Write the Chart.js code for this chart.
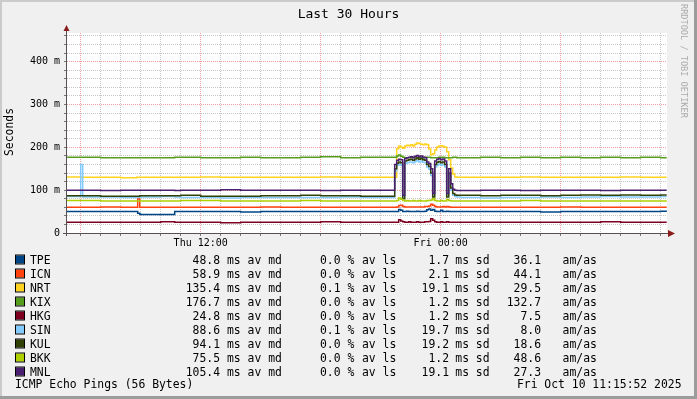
<!DOCTYPE html>
<html>
<head>
<meta charset="utf-8">
<script src="https://cdn.jsdelivr.net/npm/chart.js@4/dist/chart.umd.min.js"></script>
<style>
  html, body { margin: 0; padding: 0; background: #f0f0f0; }
  canvas { display: block; }
</style>
</head>
<body>
<canvas id="ping" width="697" height="399"></canvas>
<script>
// time axis: hours since Thu 00:00
const times = [5.25, 6, 6.1, 7, 8, 8.8, 8.85, 8.95, 9, 10, 10.7, 11, 12, 13, 14, 15, 16, 17, 18, 19, 20, 21,
  21.7, 21.8, 21.9, 22.0, 22.1, 22.2, 22.3, 22.4, 22.5, 22.6, 22.7, 22.8, 22.9, 23.0, 23.1, 23.2,
  23.3, 23.4, 23.5, 23.6, 23.7, 23.8, 23.9, 24.0, 24.1, 24.2, 24.3, 24.4, 24.5, 24.6, 24.7, 24.8,
  25, 26, 27, 28, 29, 30, 31, 32, 33, 34, 35, 35.3];

// median rtt per host, ms
const tpe = [50,50,50,50,50,50,46,44,43,43,50,50,50,50,49,50,50,50,50,50,50,50,
  50,50,55,53,50,50,51,50,50,50,50,51,50,50,50,51,54,56,53,55,51,50,50,53,50,50,51,50,50,50,50,50,
  50,50,50,50,49,50,50,50,50,50,51,50];
const icn = [60,60,60,61,60,60,80,60,60,60,60,60,60,60,60,61,60,60,60,60,60,60,
  60,61,64,65,62,61,61,61,61,61,61,61,61,61,61,62,62,63,67,65,62,61,61,61,62,61,62,61,60,60,60,60,
  60,60,60,60,60,61,60,60,60,60,60,60];
const nrt = [131,130,130,130,129,130,130,130,130,130,130,130,131,130,130,130,130,130,131,130,130,130,
  130,197,203,200,198,203,205,204,206,203,207,210,209,207,206,208,206,196,183,185,194,201,203,204,202,200,190,171,152,138,131,130,
  130,130,130,131,130,130,130,130,131,130,130,130];
const kix = [177,177,177,176,176,176,176,176,176,176,177,177,176,176,177,176,176,177,178,176,177,177,
  177,180,182,179,177,176,176,176,177,177,177,176,176,176,176,177,177,177,176,176,176,176,177,177,177,176,176,176,176,177,177,176,
  176,177,176,177,176,177,176,177,176,177,176,176];
const hkg = [25,25,25,25,25,25,25,25,25,26,25,25,25,24,25,25,25,25,26,25,25,25,
  25,25,31,28,26,25,25,26,25,25,25,26,25,25,25,26,26,27,33,30,26,25,25,26,25,25,26,25,25,25,25,25,
  25,25,25,25,25,25,25,26,25,25,25,25];
const sin = [85,160,84,84,83,83,83,83,84,85,84,83,83,82,83,83,83,83,83,84,83,83,
  145,158,160,158,84,162,164,165,166,164,167,169,166,168,165,164,154,149,134,86,154,159,161,158,160,154,86,134,100,88,85,84,
  83,82,83,83,84,83,84,85,84,84,85,85];
const kul = [87,87,87,86,86,86,86,87,87,87,87,88,86,86,86,87,87,88,87,87,86,86,
  150,163,166,164,80,168,170,171,172,170,173,175,172,174,171,170,160,155,140,84,160,165,167,164,166,160,84,140,105,92,89,88,
  88,87,88,88,87,88,89,88,89,88,89,89];
const bkk = [76,76,76,75,75,75,75,75,75,75,75,76,76,75,75,75,75,76,75,75,75,75,
  75,76,82,79,76,75,76,75,75,76,75,75,76,75,75,75,76,76,77,80,76,75,75,76,75,75,78,76,75,75,75,75,
  75,75,75,76,75,75,75,75,75,75,75,75];
const mnl = [100,100,100,99,100,100,100,100,100,100,99,100,100,101,100,100,100,100,99,100,100,100,
  160,170,172,171,88,174,176,177,178,176,179,181,178,180,177,176,166,162,150,92,168,172,174,171,173,168,92,150,115,102,100,99,
  99,100,100,99,100,100,100,99,100,100,100,100];

const hosts = ['TPE', 'ICN', 'NRT', 'KIX', 'HKG', 'SIN', 'KUL', 'BKK', 'MNL'];
const colors = ['#004586', '#ff420e', '#ffd320', '#579d1c', '#7e0021', '#83caff', '#314004', '#aecf00', '#4b1f6f'];
const medAvg = [48.8, 58.9, 135.4, 176.7, 24.8, 88.6, 94.1, 75.5, 105.4];
const lossAvg = [0.0, 0.0, 0.1, 0.0, 0.0, 0.1, 0.0, 0.0, 0.0];
const sdAvg = [1.7, 2.1, 19.1, 1.2, 1.2, 19.7, 19.2, 1.2, 19.1];
const amas = [36.1, 44.1, 29.5, 132.7, 7.5, 8.0, 18.6, 48.6, 27.3];
const series = [tpe, icn, nrt, kix, hkg, sin, kul, bkk, mnl];

const hourTicks = [6,7,8,9,10,11,12,13,14,15,16,17,18,19,20,21,22,23,24,25,26,27,28,29,30,31,32,33,34,35];
const yTicks = [0,20,40,60,80,100,120,140,160,180,200,220,240,260,280,300,320,340,360,380,400,420,440,460];

const mono = '"DejaVu Sans Mono", monospace';
const majorGrid = 'rgba(222,80,72,0.55)';
const minorGrid = 'rgba(143,143,143,0.5)';

const rrdLook = {
  id: 'rrdLook',
  beforeDraw(chart) {
    const { ctx, chartArea: a } = chart;
    ctx.save();
    ctx.fillStyle = '#f0f0f0';
    ctx.fillRect(0, 0, 697, 399);
    ctx.fillStyle = '#cbcbcb';
    ctx.fillRect(0, 0, 697, 2);
    ctx.fillRect(0, 0, 2, 399);
    ctx.fillStyle = '#9c9c9c';
    ctx.fillRect(0, 396, 697, 3);
    ctx.fillRect(694, 0, 3, 399);
    ctx.fillStyle = '#ffffff';
    ctx.fillRect(a.left, a.top, a.right - a.left, a.bottom - a.top);
    ctx.restore();
  },
  afterDraw(chart) {
    const ctx = chart.ctx;
    ctx.save();
    // axes and arrows
    ctx.fillStyle = '#585050';
    ctx.fillRect(66, 30, 1, 206);
    ctx.fillRect(63, 233, 607, 1);
    ctx.fillStyle = '#8b1c1c';
    ctx.beginPath();
    ctx.moveTo(63.5, 31); ctx.lineTo(66.5, 25); ctx.lineTo(69.5, 31); ctx.closePath();
    ctx.fill();
    ctx.beginPath();
    ctx.moveTo(668, 230); ctx.lineTo(675, 233.5); ctx.lineTo(668, 237); ctx.closePath();
    ctx.fill();

    // title
    ctx.fillStyle = '#000';
    ctx.font = '13px ' + mono;
    ctx.textAlign = 'center';
    ctx.textBaseline = 'alphabetic';
    ctx.fillText('Last 30 Hours', 348.5, 18.3);

    // vertical label
    ctx.save();
    ctx.translate(10.5, 132);
    ctx.rotate(-Math.PI / 2);
    ctx.font = '11.4px ' + mono;
    ctx.textBaseline = 'middle';
    ctx.fillText('Seconds', 0, 0);
    ctx.restore();

    // watermark
    ctx.save();
    ctx.translate(683.5, 4);
    ctx.rotate(Math.PI / 2);
    ctx.font = '8.6px ' + mono;
    ctx.fillStyle = 'rgba(0,0,0,0.3)';
    ctx.textAlign = 'left';
    ctx.textBaseline = 'middle';
    ctx.fillText('RRDTOOL / TOBI OETIKER', 0, 0);
    ctx.restore();

    // legend
    ctx.font = '11.4px ' + mono;
    ctx.textBaseline = 'alphabetic';
    hosts.forEach((h, i) => {
      const y = 263.5 + 14 * i;
      ctx.fillStyle = colors[i];
      ctx.fillRect(16, y - 8, 8, 8);
      ctx.strokeStyle = '#000';
      ctx.lineWidth = 1;
      ctx.strokeRect(15.5, y - 8.5, 9, 9);
      ctx.fillStyle = '#000';
      ctx.textAlign = 'left';
      ctx.fillText(h, 30, y);
      ctx.textAlign = 'right';
      ctx.fillText(medAvg[i].toFixed(1), 220, y);
      ctx.fillText(sdAvg[i].toFixed(1), 449, y);
      ctx.fillText(amas[i].toFixed(1), 541, y);
      ctx.textAlign = 'left';
      ctx.fillText('ms av md', 227, y);
      ctx.fillText(lossAvg[i].toFixed(1) + ' %', 320, y);
      ctx.fillText('av ls', 362, y);
      ctx.fillText('ms sd', 455.3, y);
      ctx.fillText('am/as', 562.6, y);
    });
    ctx.textAlign = 'left';
    ctx.fillText('ICMP Echo Pings (56 Bytes)', 15, 388);
    ctx.textAlign = 'right';
    ctx.fillText('Fri Oct 10 11:15:52 2025', 681.5, 388);
    ctx.restore();
  }
};

new Chart(document.getElementById('ping'), {
  type: 'line',
  data: {
    datasets: hosts.map((h, i) => ({
      label: h,
      data: times.map((t, k) => ({ x: t, y: series[i][k] })),
      borderColor: colors[i],
      backgroundColor: colors[i],
      borderWidth: 1.5,
      pointRadius: 0,
      stepped: true,
      fill: false,
      order: hosts.length - 1 - i
    }))
  },
  options: {
    responsive: false,
    animation: false,
    devicePixelRatio: 1,
    layout: { padding: { left: 0, right: 30, top: 33, bottom: 0 } },
    plugins: { legend: { display: false }, tooltip: { enabled: false }, title: { display: false } },
    scales: {
      x: {
        type: 'linear',
        min: 5.315,
        max: 35.315,
        afterFit: s => { s.height = 166; },
        afterBuildTicks: s => { s.ticks = hourTicks.map(v => ({ value: v })); },
        grid: {
          color: c => (c.tick && c.tick.value % 6 === 0) ? majorGrid : minorGrid,
          lineWidth: 1,
          tickLength: 3,
          tickColor: '#777'
        },
        border: { display: false, dash: [1, 1] },
        ticks: {
          autoSkip: false,
          maxRotation: 0,
          padding: 1,
          color: '#000',
          font: { family: 'DejaVu Sans Mono', size: 10 },
          callback: v => v === 12 ? 'Thu 12:00' : (v === 24 ? 'Fri 00:00' : '')
        }
      },
      y: {
        type: 'linear',
        min: 0,
        max: 467,
        afterFit: s => { s.width = 67; },
        afterBuildTicks: s => { s.ticks = yTicks.map(v => ({ value: v })); },
        grid: {
          color: c => (c.tick && c.tick.value % 100 === 0) ? majorGrid : minorGrid,
          lineWidth: 1,
          tickLength: 3,
          tickColor: '#777'
        },
        border: { display: false, dash: [1, 1] },
        ticks: {
          autoSkip: false,
          padding: 4,
          color: '#000',
          font: { family: 'DejaVu Sans Mono', size: 10 },
          callback: v => v % 100 !== 0 ? '' : (v === 0 ? '0' : v + ' m')
        }
      }
    }
  },
  plugins: [rrdLook]
});
</script>
</body>
</html>
